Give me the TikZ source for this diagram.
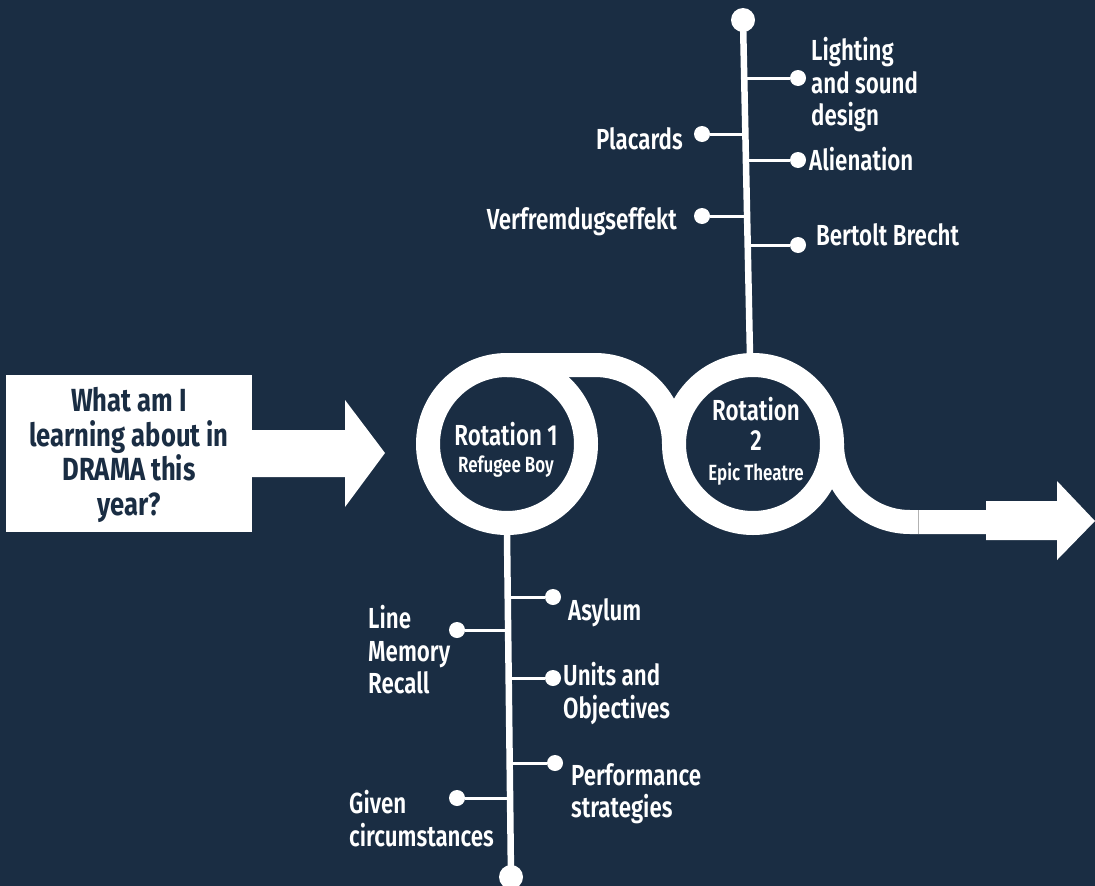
\documentclass[tikz,border=0pt]{standalone}
\usepackage{fontspec}
\setmainfont{Fira Sans SemiBold}[FakeStretch=0.77]
\newfontfamily\boxfamily{Fira Sans}[FakeStretch=0.8]
\definecolor{navy}{HTML}{1A2D43}
\newcommand\lblfnt{\fontsize{29}{32.3}\selectfont}
\newcommand\smallfnt{\fontsize{22}{26}\selectfont}
\newcommand\boxfnt{\boxfamily\bfseries\fontsize{32}{34.5}\selectfont}
\begin{document}
\begin{tikzpicture}[x=1pt,y=-1pt,
  lbl/.style={text=white, inner sep=0pt, font=\lblfnt, align=left},
  rtxt/.style={text=white, inner sep=0pt, anchor=north},
  dot/.style={circle, fill=white, minimum size=16pt, inner sep=0pt},
  enddot/.style={circle, fill=white, minimum size=24pt, inner sep=0pt},
  branch/.style={draw=white, line width=3pt},
  mainline/.style={draw=white, line width=6.5pt},
  track/.style={draw=white, line width=24pt},
  ring/.style={circle, draw=white, line width=24pt, minimum size=158pt, inner sep=0pt}]
\fill[navy] (0,0) rectangle (1095,886);
\useasboundingbox (0,0) rectangle (1095,886);

% question box and arrow
\node[fill=white, minimum width=246pt, minimum height=157pt, inner sep=0pt] (q) at (129,453.5) {};
\node[anchor=north, align=center, text=navy, font=\boxfnt, inner sep=0pt] (qt) at (129,387.5)
  {What am I\\learning about in\\DRAMA this\\year?};
\fill[white] (q.east |- 0,430) -- (345,430) -- (345,400) -- (385,453) -- (345,507) -- (345,477) -- (q.east |- 0,477) -- cycle;

% track
\coordinate (t1) at (507,365);
\coordinate (t2) at (595,365);
\coordinate (t3) at (674,444);
\draw[track] (t1) -- (t2) .. controls (638.6,365) and (674,400.4) .. (t3);
\coordinate (t4) at (832,444);
\coordinate (t5) at (910,522);
\coordinate (t6) at (986,522);
\draw[track] (t4) .. controls (832,487.1) and (866.9,522) .. (t5) -- (t6);
\draw[gray!60, line width=0.8pt] (918,510) -- (918,534);
\fill[white] (986,501) -- (1057,501) -- (1057,481) -- (1095,521) -- (1057,560) -- (1057,540) -- (986,540) -- cycle;

% rings
\node[ring] (r1) at (507,444) {};
\node[ring] (r2) at (753,444) {};
\node[rtxt, font=\lblfnt] (r1a) at (506,422.5) {Rotation 1};
\node[rtxt, font=\smallfnt] (r1b) at (506,455.5) {Refugee Boy};
\node[rtxt, font=\lblfnt] (r2a) at (756,397.5) {Rotation};
\node[rtxt, font=\lblfnt] (r2b) at (756,430) {2};
\node[rtxt, font=\smallfnt] (r2c) at (756,462.5) {Epic Theatre};

% upper main line
\node[enddot] (topdot) at (743,20) {};
\coordinate (ub) at (750,356);
\draw[mainline] (topdot.center) -- (ub);

\coordinate (j1) at (744.2,78);  \node[dot] (d1) at (798,78) {};  \draw[branch] (j1) -- (d1);
\coordinate (j2) at (745.4,134); \node[dot] (d2) at (702,134) {}; \draw[branch] (j2) -- (d2);
\coordinate (j3) at (745.9,160); \node[dot] (d3) at (798,160) {}; \draw[branch] (j3) -- (d3);
\coordinate (j4) at (747.1,216); \node[dot] (d4) at (702,216) {}; \draw[branch] (j4) -- (d4);
\coordinate (j5) at (747.7,245); \node[dot] (d5) at (798,245) {}; \draw[branch] (j5) -- (d5);

\node[lbl, anchor=north west] (l1) at (811,37.5) {Lighting\\and sound\\design};
\node[lbl, anchor=north east] (l2) at (683,127.5) {Placards};
\node[lbl, anchor=north west] (l3) at (809,147.5) {Alienation};
\node[lbl, anchor=north east] (l4) at (677,207.5) {Verfremdugseffekt};
\node[lbl, anchor=north west] (l5) at (816,223.5) {Bertolt Brecht};

% lower main line
\node[enddot] (botdot) at (511,877) {};
\draw[mainline] (r1.south) -- (botdot.center);

\coordinate (k1) at (507.7,597); \node[dot] (e1) at (553,597) {}; \draw[branch] (k1) -- (e1);
\coordinate (k2) at (508.1,630); \node[dot] (e2) at (457,630) {}; \draw[branch] (k2) -- (e2);
\coordinate (k3) at (508.7,678); \node[dot] (e3) at (553,678) {}; \draw[branch] (k3) -- (e3);
\coordinate (k4) at (509.7,763); \node[dot] (e4) at (555,763) {}; \draw[branch] (k4) -- (e4);
\coordinate (k5) at (510.1,798); \node[dot] (e5) at (457,798) {}; \draw[branch] (k5) -- (e5);

\node[lbl, anchor=north west] (m1) at (568,598.5) {Asylum};
\node[lbl, anchor=north west] (m2) at (368,605.5) {Line\\Memory\\Recall};
\node[lbl, anchor=north west] (m3) at (563,662.5) {Units and\\Objectives};
\node[lbl, anchor=north west] (m4) at (571,763.5) {Performance\\strategies};
\node[lbl, anchor=north west] (m5) at (349,790.5) {Given\\circumstances};
\end{tikzpicture}
\end{document}
